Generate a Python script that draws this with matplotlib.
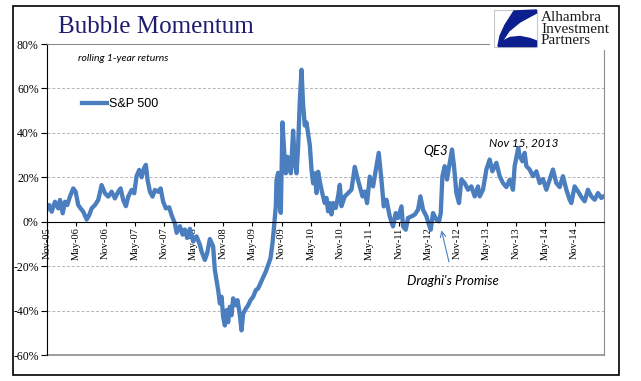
import matplotlib.pyplot as plt
from matplotlib.patches import Rectangle, Polygon

# rolling 1-year S&P 500 returns (%), date as decimal year
dates = [
    2005.828, 2005.872, 2005.913, 2005.969, 2006.026, 2006.055, 2006.101, 2006.140,
    2006.179, 2006.225, 2006.281, 2006.322, 2006.366, 2006.407, 2006.452, 2006.510,
    2006.554, 2006.595, 2006.651, 2006.707, 2006.765, 2006.822, 2006.878, 2006.936,
    2006.992, 2007.048, 2007.089, 2007.133, 2007.179, 2007.219, 2007.277, 2007.321,
    2007.362, 2007.406, 2007.447, 2007.486, 2007.520, 2007.549, 2007.589, 2007.634,
    2007.674, 2007.730, 2007.771, 2007.815, 2007.861, 2007.917, 2007.958, 2008.015,
    2008.044, 2008.100, 2008.146, 2008.185, 2008.224, 2008.270, 2008.327, 2008.384,
    2008.441, 2008.470, 2008.526, 2008.565, 2008.611, 2008.667, 2008.696, 2008.725,
    2008.753, 2008.782, 2008.811, 2008.838, 2008.867, 2008.896, 2008.923, 2008.952,
    2008.981, 2009.008, 2009.049, 2009.083, 2009.123, 2009.151, 2009.179, 2009.225,
    2009.264, 2009.305, 2009.349, 2009.395, 2009.434, 2009.475, 2009.520, 2009.566,
    2009.605, 2009.646, 2009.680, 2009.707, 2009.736, 2009.748, 2009.775, 2009.804,
    2009.821, 2009.850, 2009.878, 2009.906, 2009.935, 2009.963, 2009.992, 2010.031,
    2010.060, 2010.089, 2010.116, 2010.145, 2010.174, 2010.201, 2010.230, 2010.259,
    2010.287, 2010.316, 2010.345, 2010.372, 2010.401, 2010.430, 2010.457, 2010.486,
    2010.515, 2010.542, 2010.571, 2010.600, 2010.627, 2010.656, 2010.685, 2010.713,
    2010.758, 2010.798, 2010.827, 2010.856, 2010.912, 2010.968, 2011.026, 2011.083,
    2011.122, 2011.168, 2011.214, 2011.253, 2011.292, 2011.338, 2011.394, 2011.452,
    2011.491, 2011.537, 2011.577, 2011.623, 2011.679, 2011.735, 2011.781, 2011.821,
    2011.879, 2011.906, 2011.952, 2011.991, 2012.049, 2012.105, 2012.162, 2012.202,
    2012.247, 2012.305, 2012.349, 2012.378, 2012.417, 2012.475, 2012.520, 2012.549,
    2012.577, 2012.617, 2012.656, 2012.702, 2012.741, 2012.775, 2012.816, 2012.860,
    2012.901, 2012.957, 2013.014, 2013.071, 2013.128, 2013.184, 2013.213, 2013.269,
    2013.327, 2013.383, 2013.429, 2013.498, 2013.554, 2013.610, 2013.668, 2013.724,
    2013.781, 2013.809, 2013.870, 2013.895, 2013.941, 2013.980, 2014.009, 2014.065,
    2014.122, 2014.180, 2014.236, 2014.292, 2014.350, 2014.406, 2014.462, 2014.520,
    2014.577, 2014.633, 2014.691, 2014.747, 2014.776, 2014.832, 2014.889, 2014.947,
    2015.003, 2015.059, 2015.117, 2015.174, 2015.230, 2015.287, 2015.326,
]
returns = [
    5.3, 7.5, 4.5, 9.0, 6.0, 9.8, 3.8, 9.0,
    7.5, 11.3, 15.0, 13.5, 7.5, 6.0, 4.5, 1.0,
    3.0, 6.0, 7.5, 9.8, 16.5, 12.8, 11.3, 13.5,
    10.5, 13.5, 15.0, 9.8, 7.0, 11.3, 14.3, 12.8,
    20.6, 23.3, 20.0, 24.0, 25.6, 18.8, 13.5, 11.3,
    14.3, 13.5, 15.0, 9.0, 6.0, 6.5, 3.0, -0.8,
    -5.0, -2.0, -5.8, -3.5, -7.3, -3.2, -8.9, -6.6,
    -10.4, -13.4, -17.2, -14.2, -7.8, -11.1, -21.7, -26.2,
    -30.8, -36.8, -33.8, -42.9, -46.7, -39.8, -45.2, -38.3,
    -42.1, -34.5, -37.6, -35.3, -42.1, -48.9, -41.4, -39.1,
    -37.6, -35.3, -33.8, -30.8, -30.0, -27.7, -25.0, -22.4,
    -19.4, -16.4, -9.5, -2.0, 7.1, 18.8, 22.0, 7.0,
    4.0, 44.7, 32.0, 21.8, 29.2, 25.5, 21.8, 41.0,
    27.0, 21.8, 33.6, 54.4, 68.4, 52.9, 43.3, 44.7,
    39.6, 34.4, 23.3, 17.3, 21.8, 12.9, 22.5, 18.1,
    14.4, 11.4, 8.4, 10.7, 4.7, 8.4, 3.3, 8.4,
    6.2, 11.4, 16.6, 7.0, 11.4, 12.9, 14.4, 24.7,
    20.3, 15.9, 11.4, 13.6, 8.4, 20.3, 15.9, 25.0,
    31.0, 19.0, 6.9, 9.9, 2.4, -2.1, 3.9, 1.7,
    6.9, -2.1, -3.6, 1.7, 2.4, 3.2, 5.4, 11.4,
    5.4, 2.4, -1.4, -3.6, 3.9, 0.9, 0.2, 3.9,
    20.5, 25.0, 19.0, 26.5, 32.5, 25.0, 12.9, 8.4,
    19.0, 17.4, 14.4, 15.9, 11.4, 15.9, 11.4, 14.4,
    23.5, 28.0, 22.7, 26.5, 20.5, 17.4, 15.6, 18.9,
    14.4, 25.0, 33.2, 29.5, 27.2, 31.0, 25.0, 23.5,
    20.5, 22.7, 17.4, 19.2, 14.4, 18.9, 23.5, 17.4,
    15.6, 20.5, 14.4, 9.9, 8.4, 15.9, 13.7, 11.1,
    9.2, 14.4, 11.4, 9.9, 12.9, 10.7, 11.4,
]

tick_labels = ['Nov-05', 'May-06', 'Nov-06', 'May-07', 'Nov-07', 'May-08', 'Nov-08',
               'May-09', 'Nov-09', 'May-10', 'Nov-10', 'May-11', 'Nov-11', 'May-12',
               'Nov-12', 'May-13', 'Nov-13', 'May-14', 'Nov-14']
y_ticks = [-60, -40, -20, 0, 20, 40, 60, 80]

months = {'May': 4, 'Nov': 10}
tick_pos = [2000 + int(t[4:]) + months[t[:3]] / 12 for t in tick_labels]

serif = 'Liberation Serif'
blue = '#4a7ebf'
grey = '#8c8c8c'

fig = plt.figure(figsize=(6.41, 3.81), dpi=100)
ax = fig.add_axes([0.0733, 0.0682, 0.8690, 0.8163])

ax.plot(dates, returns, color=blue, lw=3.1, label='S&P 500', solid_joinstyle='round')

ax.set_xlim(2005 + 10 / 12, 2015 + 4 / 12)
ax.set_ylim(-60, 80)

for v in [60, 40, 20, -20, -40]:
    ax.axhline(v, color='#b4b4b4', lw=0.7, ls=(0, (3, 2)), zorder=0)

ax.spines['bottom'].set_position(('data', 0))
ax.spines['bottom'].set_color('black')
ax.spines['left'].set_color('black')
ax.spines['top'].set_color(grey)
ax.spines['right'].set_color(grey)
ax.axhline(-60, color=grey, lw=1.2, clip_on=False)

ax.set_xticks(tick_pos)
ax.set_xticklabels(tick_labels, rotation=90, fontsize=7.5, family=serif)
ax.set_yticks(y_ticks)
ax.set_yticklabels([f'{v}%' for v in y_ticks], fontsize=8.5, family=serif)
ax.tick_params(axis='x', direction='out', length=3, pad=1)
ax.tick_params(axis='y', direction='out', length=4, pad=2)

ax.legend(loc='center left', bbox_to_anchor=(0.062, 0.807), frameon=False,
          borderpad=0, borderaxespad=0, handlelength=2.0, handletextpad=0.2,
          prop={'family': 'Liberation Sans', 'size': 9})

note = {'family': ['Lato', 'DejaVu Sans'], 'style': 'italic'}
ax.text(2012.46, 30, 'QE3', ha='center', va='baseline', fontsize=9.5, **note)
ax.text(2013.97, 34, 'Nov 15, 2013', ha='center', va='baseline', fontsize=8.5, **note)
ax.text(2012.76, -28.7, "Draghi's Promise", ha='center', va='baseline', fontsize=9.5, **note)
ax.annotate('', xy=(2012.55, -2.7), xytext=(2012.70, -19.3),
            arrowprops=dict(arrowstyle='->', color=blue, lw=0.8))

fig.text(78 / 641, 1 - 61 / 381, 'rolling 1-year returns', fontsize=7.5, **note)
fig.text(58 / 641, 1 - 33 / 381, 'Bubble Momentum', fontsize=18, family=serif,
         color='#1c1c70', va='baseline')

# outer frame
fig.patches.append(Rectangle((13 / 641, 6 / 381), 606 / 641, 369 / 381,
                             transform=fig.transFigure, fill=False, ec='black', lw=1.2))

# logo
lg = fig.add_axes([490 / 641, 1 - 50 / 381, 122 / 641, 43 / 381])
lg.set_xlim(490, 612)
lg.set_ylim(50, 7)
lg.axis('off')
lg.add_patch(Rectangle((490, 7), 122, 43, color='white'))
lg.add_patch(Rectangle((494, 9.5), 43, 37, fill=False, ec='#c8c8c8', lw=0.8))
navy = '#0d1f8f'
lg.add_patch(Polygon([(514, 11), (536.5, 10), (536.5, 13), (520, 22), (509, 31),
                      (503, 40), (498, 46), (500, 36), (505, 25)], color=navy))
lg.add_patch(Polygon([(498, 46.5), (503, 41), (510, 37.5), (520, 36.5), (530, 38.5),
                      (536.5, 41), (536.5, 46.5)], color=navy))
for i, word in enumerate(['Alhambra', 'Investment', 'Partners']):
    lg.text(541, 21 + 11.7 * i, word, family=serif, fontsize=11, color='#1a1a1a',
            va='baseline')

fig.savefig('out.png', dpi=100)
